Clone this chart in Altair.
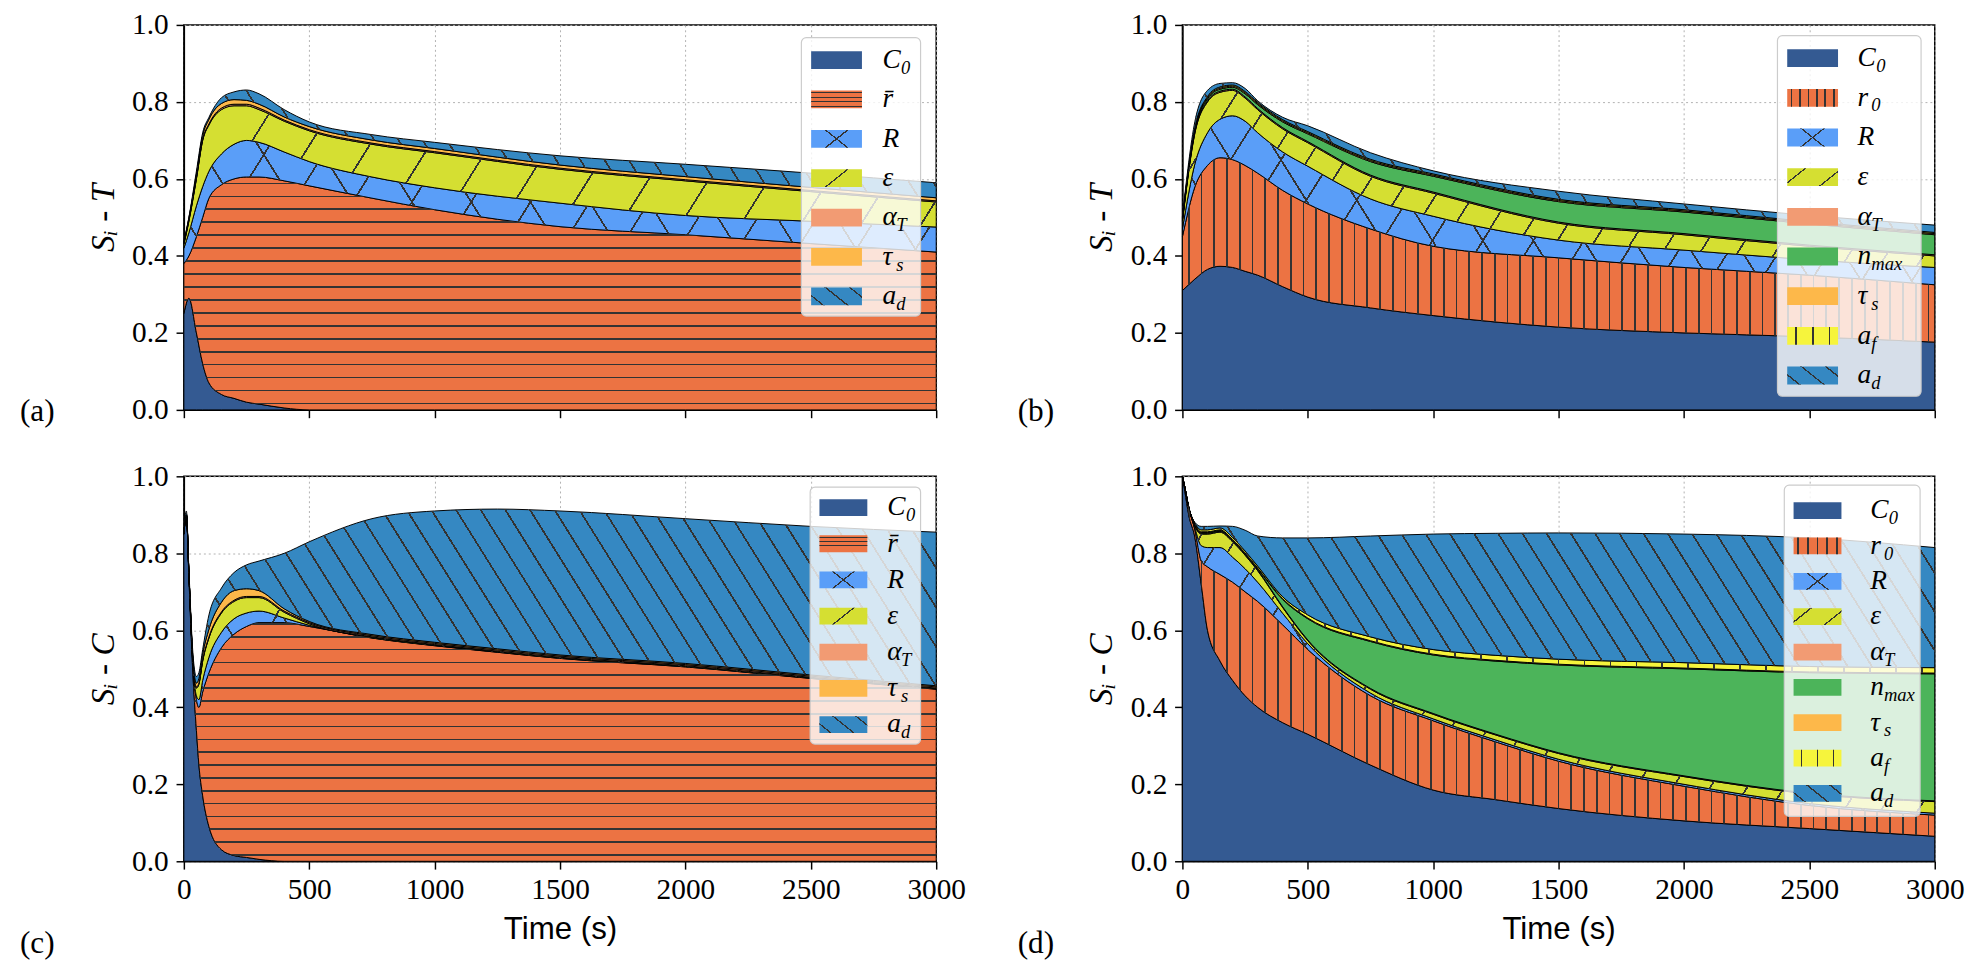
import altair as alt
import pandas as pd

# ---------------- data ----------------
# (a) S_i - T, first model
t_a = [0, 20, 50, 75, 100, 150, 200, 250, 300, 400, 500, 750, 1000, 1500, 2000, 2500, 3000]
C0_a = [0.25, 0.29, 0.20, 0.12, 0.07, 0.04, 0.03, 0.02, 0.015, 0.005, 0.0, 0, 0, 0, 0, 0, 0]
rbar_a = [0.13, 0.11, 0.25, 0.38, 0.48, 0.545, 0.57, 0.585, 0.59, 0.59, 0.582, 0.55, 0.52, 0.476, 0.455, 0.432, 0.41]
R_a = [0.04, 0.06, 0.08, 0.08, 0.07, 0.08, 0.09, 0.095, 0.09, 0.075, 0.063, 0.055, 0.057, 0.061, 0.05, 0.058, 0.065]
eps_a = [0.01, 0.03, 0.07, 0.12, 0.12, 0.115, 0.10, 0.09, 0.085, 0.08, 0.08, 0.085, 0.091, 0.088, 0.09, 0.077, 0.065]
alphaT_a = [0.002, 0.003, 0.003, 0.003, 0.003, 0.004, 0.004, 0.004, 0.004, 0.003, 0.003, 0.003, 0.003, 0.003, 0.003, 0.003, 0.003]
tau_a = [0.003, 0.005, 0.008, 0.01, 0.012, 0.012, 0.012, 0.01, 0.01, 0.008, 0.008, 0.008, 0.008, 0.008, 0.008, 0.008, 0.008]
ad_a = [0.0, 0.002, 0.009, 0.007, 0.005, 0.015, 0.02, 0.027, 0.027, 0.019, 0.012, 0.014, 0.016, 0.024, 0.032, 0.037, 0.039]

# (b) S_i - T, second model
t_b = [0, 50, 100, 150, 200, 250, 300, 400, 500, 750, 1000, 1500, 2000, 2500, 3000]
C0_b = [0.31, 0.34, 0.365, 0.373, 0.37, 0.36, 0.35, 0.32, 0.293, 0.265, 0.245, 0.215, 0.20, 0.19, 0.176]
r0_b = [0.14, 0.24, 0.27, 0.282, 0.28, 0.275, 0.265, 0.25, 0.242, 0.205, 0.18, 0.18, 0.17, 0.16, 0.149]
R_b = [0.02, 0.06, 0.085, 0.10, 0.114, 0.115, 0.105, 0.10, 0.098, 0.078, 0.078, 0.046, 0.045, 0.04, 0.045]
eps_b = [0.02, 0.08, 0.08, 0.07, 0.066, 0.06, 0.06, 0.06, 0.061, 0.059, 0.06, 0.044, 0.04, 0.035, 0.03]
alphaT_b = [0.003] * 15
nmax_b = [0.0, 0.005, 0.005, 0.005, 0.005, 0.008, 0.01, 0.015, 0.02, 0.035, 0.041, 0.053, 0.056, 0.055, 0.052]
tau_b = [0.003] * 15
af_b = [0.003] * 15
ad_b = [0.004, 0.016, 0.016, 0.009, 0.006, 0.008, 0.004, 0.006, 0.015, 0.017, 0.008, 0.021, 0.015, 0.016, 0.019]

# (c) S_i - C, first model
t_c = [0, 10, 20, 35, 50, 60, 75, 100, 150, 200, 250, 300, 400, 500, 750, 1000, 1250, 1500, 2000, 2500, 3000]
C0_c = [0.85, 0.90, 0.74, 0.50, 0.34, 0.25, 0.17, 0.09, 0.03, 0.015, 0.01, 0.005, 0, 0, 0, 0, 0, 0, 0, 0, 0]
rbar_c = [0.0, 0.0, 0.01, 0.02, 0.08, 0.15, 0.27, 0.40, 0.525, 0.575, 0.60, 0.615, 0.62, 0.61, 0.58, 0.56, 0.543, 0.527, 0.505, 0.475, 0.447]
R_c = [0, 0, 0, 0.005, 0.01, 0.02, 0.03, 0.04, 0.04, 0.04, 0.035, 0.03, 0.012, 0.003, 0.001, 0.001, 0.001, 0.001, 0.001, 0.001, 0.001]
eps_c = [0, 0, 0, 0.005, 0.02, 0.04, 0.05, 0.05, 0.05, 0.045, 0.04, 0.035, 0.015, 0.004, 0.002, 0.002, 0.002, 0.002, 0.002, 0.002, 0.002]
alphaT_c = [0, 0, 0, 0.002] + [0.003] * 17
tau_c = [0, 0, 0, 0.005, 0.01, 0.012, 0.015, 0.02, 0.025, 0.025, 0.02, 0.015, 0.006, 0.003, 0.003, 0.003, 0.003, 0.003, 0.003, 0.003, 0.003]
ad_c = [0.01, 0.01, 0.01, 0.013, 0.017, 0.015, 0.012, 0.037, 0.037, 0.047, 0.062, 0.077, 0.144, 0.207, 0.301, 0.341, 0.363, 0.374, 0.376, 0.386, 0.399]

# (d) S_i - C, second model
t_d = [0, 10, 25, 50, 75, 100, 150, 200, 250, 300, 400, 500, 750, 1000, 1250, 1500, 2000, 2500, 3000]
C0_d = [1.0, 0.96, 0.90, 0.84, 0.72, 0.60, 0.52, 0.47, 0.43, 0.40, 0.36, 0.33, 0.25, 0.185, 0.16, 0.137, 0.105, 0.085, 0.065]
r0_d = [0, 0.01, 0.02, 0.02, 0.06, 0.165, 0.225, 0.255, 0.27, 0.275, 0.254, 0.22, 0.18, 0.18, 0.15, 0.123, 0.09, 0.06, 0.055]
R_d = [0, 0, 0, 0.005, 0.04, 0.05, 0.07, 0.065, 0.06, 0.05, 0.03, 0.015, 0.007, 0.005, 0.005, 0.005, 0.005, 0.005, 0.005]
eps_d = [0, 0, 0, 0.005, 0.03, 0.035, 0.04, 0.04, 0.035, 0.03, 0.015, 0.008, 0.01, 0.012, 0.013, 0.015, 0.02, 0.025, 0.03]
alphaT_d = [0, 0, 0] + [0.002] * 16
nmax_d = [0, 0, 0, 0.002, 0.002, 0.002, 0.002, 0.002, 0.002, 0.003, 0.019, 0.055, 0.122, 0.152, 0.19, 0.228, 0.278, 0.313, 0.33]
tau_d = [0, 0, 0] + [0.002] * 16
af_d = [0, 0, 0, 0.002, 0.005, 0.005, 0.005, 0.005, 0.005, 0.005, 0.005, 0.008, 0.01, 0.012, 0.013, 0.013, 0.014, 0.014, 0.014]
ad_d = [0, 0, 0, 0.002, 0.009, 0.009, 0.005, 0.029, 0.054, 0.078, 0.153, 0.20, 0.262, 0.30, 0.317, 0.328, 0.334, 0.334, 0.312]

# parameter names, legend text (base letter + subscript)
names_1 = ["C0", "rbar", "R", "eps", "alphaT", "tau_s", "a_d"]
base_1 = ["C", "r\u0304", "R", "\u03b5", "\u03b1", "\u03c4", "a"]
sub_1 = ["0", "", "", "", "T", "s", "d"]
names_2 = ["C0", "r0", "R", "eps", "alphaT", "n_max", "tau_s", "a_f", "a_d"]
base_2 = ["C", "r", "R", "\u03b5", "\u03b1", "n", "\u03c4", "a", "a"]
sub_2 = ["0", "0", "", "", "T", "max", "s", "f", "d"]

x_ticks = [0, 500, 1000, 1500, 2000, 2500, 3000]
y_ticks = [0.0, 0.2, 0.4, 0.6, 0.8, 1.0]

palette = {
    "C0": "#345A92", "rbar": "#EC7343", "r0": "#EC7343", "R": "#5A9EF8",
    "eps": "#D5DF32", "alphaT": "#F29B73", "n_max": "#4CB45A",
    "tau_s": "#FDB84A", "a_f": "#F6F43C", "a_d": "#3588C2",
}
all_names = list(palette)
color_scale = alt.Scale(domain=all_names, range=[palette[n] for n in all_names])

# hatch style per parameter: (direction, horizontal period in px)
hatch_1 = {"rbar": [("-", 13)], "R": [("/", 62), ("\\", 62)],
           "eps": [("/", 62)], "a_d": [("\\", 25)]}
hatch_2 = {"r0": [("|", 13)], "R": [("/", 52), ("\\", 52)],
           "eps": [("/", 38)], "a_f": [("|", 27)], "a_d": [("\\", 25)]}

W, H = 770, 394
SERIF = "Liberation Serif"
SANS = "Liberation Sans"
INK = "#333333"
CLEAR = "rgba(0,0,0,0)"
SLOPE = 1.6  # steepness of the diagonal hatch lines


def stripes(n, f):
    # one line centred in each of n equal periods
    stops = []
    for k in range(n):
        a, c = k / n, (k + 1) / n
        b0, b1 = (k + 0.5 - f / 2) / n, (k + 0.5 + f / 2) / n
        stops += [{"offset": round(a, 5), "color": CLEAR},
                  {"offset": round(b0, 5), "color": CLEAR},
                  {"offset": round(b0, 5), "color": INK},
                  {"offset": round(b1, 5), "color": INK},
                  {"offset": round(b1, 5), "color": CLEAR},
                  {"offset": round(c, 5), "color": CLEAR}]
    return stops


def hatch_fill(kind, period, w, h, lw=1.8, m=SLOPE):
    """Linear gradient (bounding-box units) that draws parallel hatch lines."""
    if kind == "-":
        n = max(1, round(h / period))
        return {"gradient": "linear", "x1": 0, "y1": 0, "x2": 0, "y2": 1,
                "stops": stripes(n, min(0.5, lw * n / h))}
    if kind == "|":
        n = max(1, round(w / period))
        return {"gradient": "linear", "x1": 0, "y1": 0, "x2": 1, "y2": 0,
                "stops": stripes(n, min(0.5, lw * n / w))}
    span = m * w + h
    s = span / (m * m * w * w + h * h)
    n = max(1, round(span / (m * period)))
    f = min(0.5, lw * (m * m + 1) ** 0.5 * n / span)
    if kind == "/":
        return {"gradient": "linear", "x1": 0, "y1": 0, "x2": round(s * m * w, 6),
                "y2": round(s * h, 6), "stops": stripes(n, f)}
    return {"gradient": "linear", "x1": 0, "y1": 1, "x2": round(s * m * w, 6),
            "y2": round(1 - s * h, 6), "stops": stripes(n, f)}


def build_panel(times, series, names, base, sub, hatches, ylab, tag, lg, bottom):
    rows = []
    for k, (name, vals) in enumerate(zip(names, series)):
        for t, v in zip(times, vals):
            rows.append({"t": t, "v": v, "param": name, "k": k})
    df = pd.DataFrame(rows)
    color = alt.Color("param:N", scale=color_scale, legend=None)

    common = dict(values=x_ticks, grid=True, labelFont=SERIF, labelFontSize=30,
                  format="d", labelFlush=False, labelOverlap=False)
    if bottom:
        x_axis = alt.Axis(title="Time (s)", titleFont=SANS, titleFontSize=32,
                          titleFontWeight="normal", **common)
    else:
        x_axis = alt.Axis(labels=False, title=None, **common)

    y_axis = alt.Axis(values=y_ticks, format=".1f", title=ylab, labelFont=SERIF,
                      labelFontSize=30, titleFont=SERIF, titleFontSize=34,
                      titleFontStyle="italic", titleFontWeight="normal")
    x_enc = alt.X("t:Q", scale=alt.Scale(domain=[0, 3000], nice=False), axis=x_axis)
    y_scale = alt.Scale(domain=[0, 1], nice=False)

    area = alt.Chart(df).mark_area(
        interpolate="monotone", stroke="black", strokeWidth=1, fillOpacity=1
    ).encode(
        x=x_enc,
        y=alt.Y("v:Q", stack="zero", scale=y_scale, axis=y_axis),
        color=color,
        order=alt.Order("k:Q"),
    )

    # hatch overlays, one per hatched parameter and direction
    layers = [area]
    lower = [0.0] * len(times)
    stacked = alt.Chart(df).transform_stack(
        stack="v", groupby=["t"], as_=["y0", "y1"],
        sort=[alt.SortField(field="k", order="ascending")])
    for name, vals in zip(names, series):
        upper = [a + b for a, b in zip(lower, vals)]
        h_px = (max(upper) - min(lower)) * H
        for kind, period in hatches.get(name, []):
            layers.append(
                stacked.transform_filter(alt.datum.param == name).mark_area(
                    interpolate="monotone", fill=hatch_fill(kind, period, W, h_px),
                    strokeWidth=0
                ).encode(x=x_enc, y=alt.Y("y1:Q", scale=y_scale, axis=y_axis),
                         y2="y0:Q")
            )
        lower = upper

    leg = pd.DataFrame({"param": names, "base": base, "sub": sub,
                        "k": list(range(len(names)))})
    one = pd.DataFrame({"n": [0]})

    box = alt.Chart(one).mark_rect(
        fill="white", fillOpacity=0.8, stroke="#cccccc", strokeWidth=1.2, cornerRadius=5
    ).encode(x=alt.value(W - lg["x0"]), x2=alt.value(W - lg["x1"]),
             y=alt.value(lg["y0"]), y2=alt.value(lg["y1"]))

    leg_base = alt.Chart(leg).transform_calculate(
        ly=f"{lg['row0']} + datum.k * {lg['step']}",
        sx=f"{W - lg['lx']} + (datum.base == 'C' ? 19 : 14)",
    )
    sw = lg["sw"]
    shape = "M-1,-0.35L1,-0.35L1,0.35L-1,0.35Z"
    swatch = leg_base.mark_point(
        shape=shape, size=sw * sw, filled=True, opacity=1
    ).encode(x=alt.value(W - lg["sx"]), y=alt.Y("ly:Q", scale=None), color=color)
    sw_hatch = []
    for name in names:
        for kind, period in hatches.get(name, []):
            p = period if kind in "/\\" else period * 0.7
            sw_hatch.append(
                leg_base.transform_filter(alt.datum.param == name).mark_point(
                    shape=shape, size=sw * sw, filled=True, opacity=1,
                    fill=hatch_fill(kind, p, sw, 0.7 * sw)
                ).encode(x=alt.value(W - lg["sx"]), y=alt.Y("ly:Q", scale=None))
            )

    lab = leg_base.mark_text(
        align="left", baseline="middle", font=SERIF, fontStyle="italic",
        fontSize=28, color="black"
    ).encode(x=alt.value(W - lg["lx"]), y=alt.Y("ly:Q", scale=None), text="base:N")

    lab_sub = leg_base.mark_text(
        align="left", baseline="middle", font=SERIF, fontStyle="italic",
        fontSize=19, color="black", dy=8
    ).encode(x=alt.X("sx:Q", scale=None), y=alt.Y("ly:Q", scale=None), text="sub:N")

    tag_txt = alt.Chart(one).mark_text(
        font=SERIF, fontSize=32, color="black", align="center", baseline="middle"
    ).encode(x=alt.value(-150), y=alt.value(H + lg["tag_dy"]), text=alt.value(tag))

    layers += [box, swatch] + sw_hatch + [lab, lab_sub, tag_txt]
    return alt.layer(*layers).properties(width=W, height=H)


# legend geometry, x measured back from the right spine
lg_a = dict(x0=138, x1=16, y0=13, y1=298, sx=102, sw=52, lx=55, row0=36, step=40.3, tag_dy=1)
lg_b = dict(x0=161, x1=14, y0=11, y1=380, sx=125, sw=52, lx=79, row0=34, step=40.6, tag_dy=1)
lg_c = dict(x0=129, x1=16, y0=11, y1=274, sx=95, sw=49, lx=50, row0=32, step=37.0, tag_dy=84)
lg_d = dict(x0=154, x1=15, y0=9, y1=348, sx=120, sw=49, lx=66, row0=35, step=36.2, tag_dy=84)

pa = build_panel(t_a, [C0_a, rbar_a, R_a, eps_a, alphaT_a, tau_a, ad_a],
                 names_1, base_1, sub_1, hatch_1, "S\u1d62 - T", "(a)", lg_a, False)
pb = build_panel(t_b, [C0_b, r0_b, R_b, eps_b, alphaT_b, nmax_b, tau_b, af_b, ad_b],
                 names_2, base_2, sub_2, hatch_2, "S\u1d62 - T", "(b)", lg_b, False)
pc = build_panel(t_c, [C0_c, rbar_c, R_c, eps_c, alphaT_c, tau_c, ad_c],
                 names_1, base_1, sub_1, hatch_1, "S\u1d62 - C", "(c)", lg_c, True)
pd_ = build_panel(t_d, [C0_d, r0_d, R_d, eps_d, alphaT_d, nmax_d, tau_d, af_d, ad_d],
                  names_2, base_2, sub_2, hatch_2, "S\u1d62 - C", "(d)", lg_d, True)

# flush grid: spacing is measured spine to spine
chart = alt.concat(
    pa, pb, pc, pd_, columns=2, bounds="flush",
    spacing={"row": 68, "column": 252},
).properties(
    padding={"left": 11, "top": -10, "right": 2, "bottom": 2},
    background="white",
).configure_view(
    stroke="black", strokeWidth=1.5
).configure_axis(
    domainColor="black", domainWidth=1.5, tickColor="black", tickWidth=1.5,
    tickSize=8, gridColor="#b0b0b0", gridDash=[2, 3], gridWidth=1,
    labelColor="black", titleColor="black", zindex=1,
).configure_axisX(
    labelPadding=6, titlePadding=10,
).configure_axisY(
    labelPadding=8, titlePadding=12,
)

chart.save("out.html", embed_options={"renderer": "svg", "actions": False})
